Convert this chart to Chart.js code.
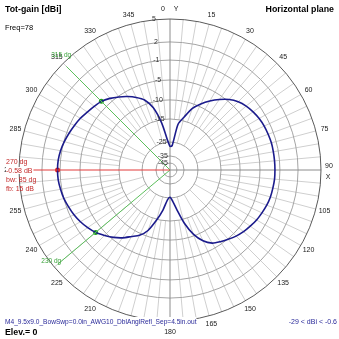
<!DOCTYPE html>
<html>
<head>
<meta charset="utf-8">
<script src="https://cdn.jsdelivr.net/npm/chart.js@4.4.1/dist/chart.umd.min.js"></script>
<style>
  html, body { margin: 0; padding: 0; background: #fff; }
  canvas { display: block; }
</style>
</head>
<body>
<canvas id="pattern" width="339" height="339"></canvas>
<script>
// azimuth in degrees, clockwise from Y
const azimuth = [0, 5, 10, 15, 20, 25, 30, 35, 40, 45, 50, 55, 60, 65, 70, 75, 80, 85,
  90, 95, 100, 105, 110, 115, 120, 125, 130, 135, 140, 145, 150, 155, 160, 165, 170, 175,
  180, 185, 190, 195, 200, 205, 210, 215, 220, 225, 230, 235, 240, 245, 250, 255, 260, 265,
  270, 275, 280, 285, 290, 295, 300, 305, 310, 315, 320, 325, 330, 335, 340, 345, 350, 355];
// total gain, dBi
const gainDbi = [-28.3, -27.5, -17.0, -14.0, -11.2, -9.3, -7.6, -6.0, -4.6, -3.7, -3.1, -2.7, -2.4, -2.2, -2.1, -2.0, -2.0, -2.0,
  -2.0, -2.0, -2.1, -2.2, -2.4, -2.7, -3.0, -3.4, -3.8, -4.3, -4.9, -5.6, -6.4, -8.0, -10.5, -14.0, -19.5, -23.5,
  -25.5, -24.0, -19.5, -14.8, -11.5, -9.5, -8.3, -6.8, -5.5, -4.5, -3.58, -2.9, -2.3, -1.8, -1.4, -1.0, -0.8, -0.62,
  -0.58, -0.62, -0.8, -1.1, -1.5, -1.9, -2.3, -2.8, -3.2, -3.58, -4.3, -5.2, -6.3, -7.5, -8.9, -11.5, -16.5, -24.0];

const ringValues = [5, 2, -1, -5, -10, -15, -25, -35, -45];
const angleLabels = [15, 30, 45, 60, 75, 105, 120, 135, 150, 165, 195, 210, 225, 240, 255, 285, 300, 315, 330, 345];

const maxAzimuth = 270;
const maxGain = -0.58;
const beamEdges = [315, 230];
const beamEdgeGain = -3.58;
const beamWidth = 85;
const frontBack = 15;
const gainMin = -29;
const gainMax = -0.6;

// relative radius of each ring (log-style radial scale)
const ringRadius = [1, 0.848, 0.728, 0.596, 0.464, 0.338, 0.185, 0.093, 0.046];

function gainToRadius(dbi) {
  if (dbi >= ringValues[0]) return 1;
  for (let i = 1; i < ringValues.length; i++) {
    if (dbi >= ringValues[i]) {
      const t = (ringValues[i - 1] - dbi) / (ringValues[i - 1] - ringValues[i]);
      return ringRadius[i - 1] + t * (ringRadius[i] - ringRadius[i - 1]);
    }
  }
  const last = ringRadius[ringRadius.length - 1];
  return Math.max(0, last * (1 - (ringValues[ringValues.length - 1] - dbi) / 10));
}

function polar(az, r) {
  const a = az * Math.PI / 180;
  return { x: r * Math.sin(a), y: r * Math.cos(a) };
}

const curve = azimuth.map((az, i) => polar(az, gainToRadius(gainDbi[i])));
curve.push(curve[0]);

const FONT = 'Arial, "Liberation Sans", sans-serif';

const gridPlugin = {
  id: 'polarGrid',
  beforeDatasetsDraw(chart) {
    const { ctx, scales: { x, y } } = chart;
    const cx = x.getPixelForValue(0);
    const cy = y.getPixelForValue(0);
    const R = x.getPixelForValue(1) - cx;
    const px = (az, r) => {
      const p = polar(az, r);
      return [cx + p.x * R, cy - p.y * R];
    };
    ctx.save();
    ctx.lineWidth = 1;
    // spokes
    for (let az = 0; az < 360; az += 5) {
      if (az % 90 === 0) continue;
      const inner = az % 15 === 0 ? gainToRadius(-25) : gainToRadius(-15);
      const [x0, y0] = px(az, inner);
      const [x1, y1] = px(az, 1);
      ctx.strokeStyle = '#cfcfcf';
      ctx.beginPath();
      ctx.moveTo(x0, y0);
      ctx.lineTo(x1, y1);
      ctx.stroke();
    }
    // rings
    ctx.strokeStyle = '#a4a4a4';
    ringValues.slice(1).forEach(v => {
      ctx.beginPath();
      ctx.arc(cx, cy, gainToRadius(v) * R, 0, Math.PI * 2);
      ctx.stroke();
    });
    // axes
    ctx.strokeStyle = '#8c8c8c';
    ctx.beginPath();
    ctx.moveTo(cx, cy - R);
    ctx.lineTo(cx, cy + R);
    ctx.moveTo(cx, cy);
    ctx.lineTo(cx + R, cy);
    ctx.stroke();
    // outer ring
    ctx.strokeStyle = '#5a5a5a';
    ctx.beginPath();
    ctx.arc(cx, cy, R, 0, Math.PI * 2);
    ctx.stroke();
    ctx.restore();
  },
  afterDatasetsDraw(chart) {
    const { ctx, scales: { x, y } } = chart;
    const cx = x.getPixelForValue(0);
    const cy = y.getPixelForValue(0);
    const R = x.getPixelForValue(1) - cx;
    ctx.save();
    ctx.textBaseline = 'middle';

    // ring labels, along the 355 deg spoke
    ctx.font = '7px ' + FONT;
    ctx.fillStyle = '#303030';
    ctx.textAlign = 'right';
    ringValues.forEach(v => {
      const r = gainToRadius(v) * R;
      ctx.fillText(String(v), Math.min(cx - 2, cx - 0.087 * r - 1), cy - r);
    });

    // angle labels
    ctx.textAlign = 'center';
    ctx.fillStyle = '#202020';
    angleLabels.forEach(az => {
      const p = polar(az, 1);
      ctx.fillText(String(az), cx + p.x * (R + 9), cy - p.y * (R + 9));
    });
    ctx.fillText('0', cx - 7, cy - R - 10);
    ctx.fillText('Y', cx + 6, cy - R - 10);
    ctx.fillText('90', cx + R + 8, cy - 4);
    ctx.fillText('X', cx + R + 7, cy + 7);
    ctx.fillText('180', cx, cy + R + 11);
    ctx.fillText('270', cx - R - 9, cy);

    // beam edge labels
    ctx.fillStyle = '#3aa23a';
    ctx.font = '6.5px ' + FONT;
    ctx.textAlign = 'left';
    beamEdges.forEach(az => {
      const p = polar(az, 1);
      const lx = cx + p.x * R;
      const ly = cy - p.y * R;
      const tx = az > 270 ? lx - 12 : lx - 13;
      const ty = az > 270 ? ly - 8 : ly - 6;
      ctx.fillText(az + ' dg', tx, ty);
    });

    // max gain readout
    const lines = [maxAzimuth + ' dg', maxGain.toFixed(2) + ' dB', 'bw: ' + beamWidth + ' dg', 'fb: ' + frontBack + ' dB'];
    ctx.font = '7px ' + FONT;
    ctx.fillStyle = '#ffffff';
    const w = ctx.measureText(lines[1]).width;
    ctx.fillRect(6, cy - 3, w + 1, 7);
    ctx.fillStyle = '#c42a2a';
    lines.forEach((t, i) => ctx.fillText(t, 6, cy - 8 + i * 9));

    // header / footer
    ctx.fillStyle = '#000';
    ctx.font = 'bold 8.8px ' + FONT;
    ctx.fillText('Tot-gain [dBi]', 5, 10);
    ctx.textAlign = 'right';
    ctx.fillText('Horizontal plane', 334, 10);
    ctx.textAlign = 'left';
    ctx.fillText('Elev.= 0', 5, 333);
    ctx.font = '7.5px ' + FONT;
    ctx.fillText('Freq=78', 5, 28);

    const fileName = 'M4_9.5x9.0_BowSwp=0.0in_AWG10_DblAnglRefl_Sep=4.5in.out';
    ctx.font = '6.6px ' + FONT;
    const fw = ctx.measureText(fileName).width;
    ctx.fillStyle = '#ffffff';
    ctx.fillRect(4, 317, fw + 1, 10);
    ctx.fillStyle = '#2a2a9a';
    ctx.fillText(fileName, 5, 322);
    ctx.font = '7px ' + FONT;
    ctx.textAlign = 'right';
    ctx.fillText(gainMin + ' < dBi < ' + gainMax, 337, 322);
    ctx.restore();
  }
};

new Chart(document.getElementById('pattern'), {
  type: 'scatter',
  data: {
    datasets: [
      {
        data: [{ x: 0, y: 0 }, polar(maxAzimuth, 1)],
        showLine: true,
        borderColor: '#e23a3a',
        borderWidth: 1,
        pointRadius: 0,
        clip: false
      },
      {
        data: [polar(beamEdges[0], 0.97), { x: 0, y: 0 }, polar(beamEdges[1], 0.97)],
        showLine: true,
        borderColor: '#5cbf5c',
        borderWidth: 1,
        pointRadius: 0,
        clip: false
      },
      {
        data: curve,
        showLine: true,
        borderColor: '#1b1b8c',
        borderWidth: 1.6,
        pointRadius: 0,
        tension: 0.25,
        clip: false
      },
      {
        data: beamEdges.map(az => polar(az, gainToRadius(beamEdgeGain))),
        pointRadius: 2.5,
        pointBackgroundColor: '#1fa01f',
        pointBorderWidth: 0,
        clip: false
      },
      {
        data: [polar(maxAzimuth, gainToRadius(maxGain))],
        pointRadius: 2.5,
        pointBackgroundColor: '#e01818',
        pointBorderWidth: 0,
        clip: false
      }
    ]
  },
  options: {
    responsive: false,
    animation: false,
    layout: { padding: { left: 19, top: 19, right: 18, bottom: 18 } },
    scales: {
      x: { type: 'linear', min: -1, max: 1, display: false },
      y: { type: 'linear', min: -1, max: 1, display: false }
    },
    plugins: {
      legend: { display: false },
      tooltip: { enabled: false }
    }
  },
  plugins: [gridPlugin]
});
</script>
</body>
</html>
